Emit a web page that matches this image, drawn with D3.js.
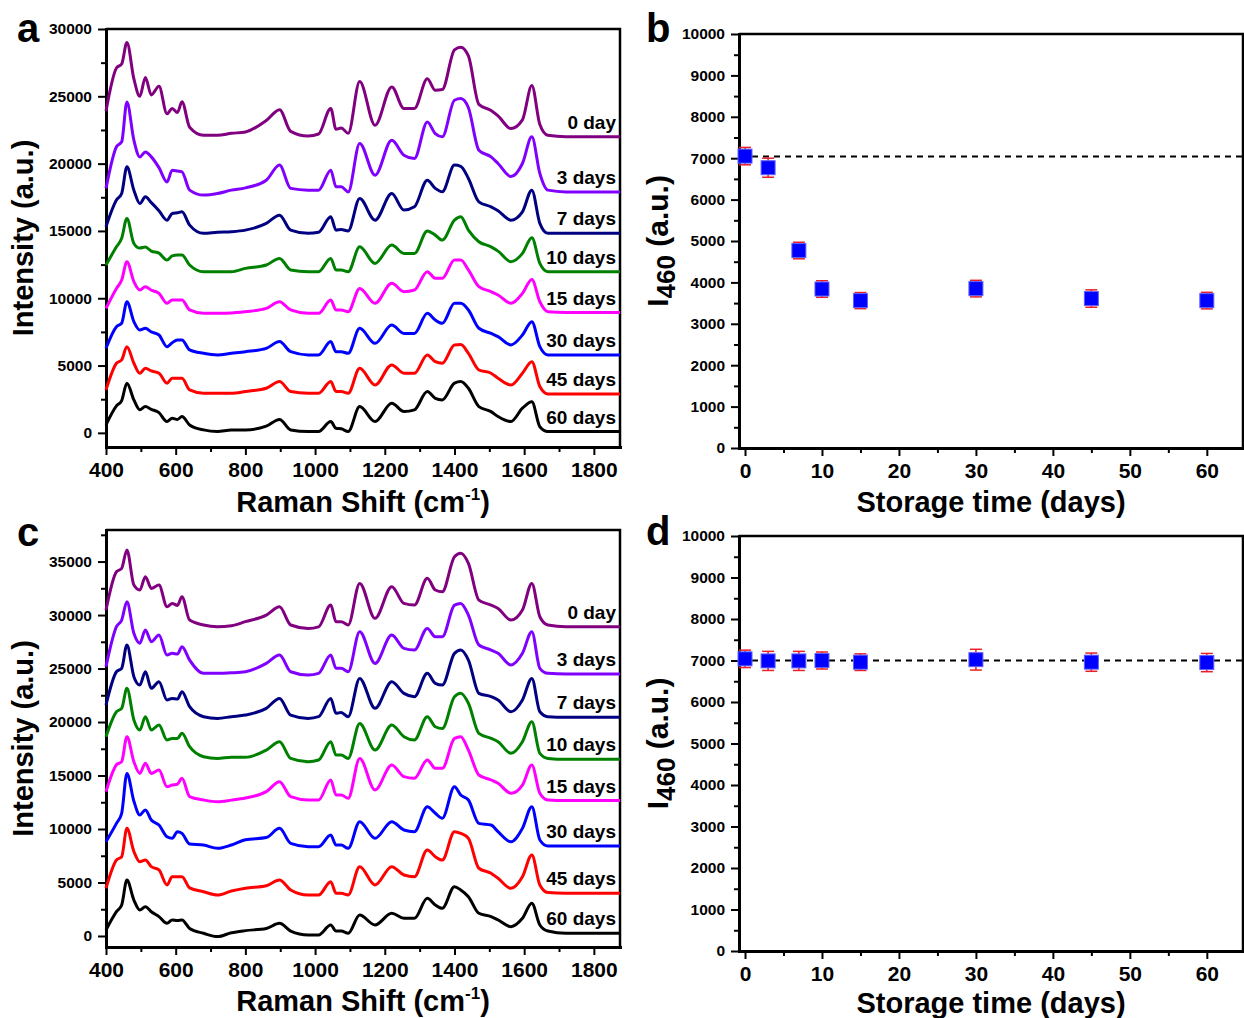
<!DOCTYPE html>
<html>
<head>
<meta charset="utf-8">
<script src="https://cdn.jsdelivr.net/npm/d3@7"></script>
<style>
  body { margin: 0; background: #fff; }
  text { font-family: "Liberation Sans", Arial, sans-serif; font-weight: bold; fill: #000; }
</style>
</head>
<body>
<svg id="fig" width="1244" height="1018"></svg>
<script>
// Raman shift grid (cm-1) shared by all spectra
var shift = [400, 430, 445, 460, 480, 497, 513, 530, 552, 575, 590, 605, 618, 640, 680, 720, 760, 800, 860, 898,
             930, 980, 1010, 1045, 1060, 1075, 1095, 1128, 1172, 1220, 1255, 1285, 1322, 1345, 1365, 1400, 1418, 1440, 1470, 1505,
             1525, 1562, 1595, 1622, 1645, 1668, 1720, 1800, 1875];

var dayLabels = ["0 day", "3 days", "7 days", "10 days", "15 days", "30 days", "45 days", "60 days"];

// panel a spectra
var aDay0 = [23900, 27100, 27400, 29000, 26300, 25000, 26400, 25100, 25750, 23700,
  24100, 23800, 24600, 22700, 22100, 22100, 22250, 22350, 23200, 24000,
  22400, 22050, 22200, 24100, 22550, 22650, 22250, 26100, 22850, 25700,
  24100, 24100, 26300, 25450, 25500, 28450, 28650, 28000, 24400, 23950,
  23550, 22600, 23250, 25800, 22900, 22100, 22000, 22000, 22000];
var aDay3 = [18160, 21250, 21620, 24580, 21740, 20500, 20870, 20500, 19700, 18640,
  19510, 19450, 19390, 18030, 17660, 17780, 18030, 18200, 18770, 19890,
  18160, 18030, 18030, 19510, 18280, 18280, 17900, 21500, 19140, 21740,
  20630, 20380, 23100, 22230, 21990, 24710, 24830, 24150, 21000, 20500,
  20010, 19040, 20010, 21990, 19270, 18030, 17900, 17900, 17900];
var aDay7 = [15310, 17290, 17780, 19760, 18030, 17040, 17530, 17100, 16500, 15800,
  16300, 16350, 16420, 15430, 14820, 14900, 14940, 15060, 15560, 16170,
  15060, 14820, 14900, 16050, 15060, 15100, 15000, 17410, 15800, 17780,
  16550, 16790, 18770, 18160, 17910, 19890, 19800, 18900, 17160, 16790,
  16500, 15800, 16420, 18030, 15560, 14820, 14820, 14820, 14820];
var aDay10 = [12470, 13820, 14450, 15930, 14070, 13730, 13800, 13500, 13350, 12840,
  13150, 13210, 13210, 12470, 11970, 11970, 11970, 12220, 12470, 12960,
  12100, 11970, 11970, 12960, 12100, 12100, 11970, 13820, 12590, 13950,
  13330, 13330, 15000, 14690, 14320, 15800, 16050, 15060, 14200, 13820,
  13500, 12710, 13330, 14500, 12590, 11970, 11970, 11970, 11970];
var aDay15 = [9250, 10730, 11350, 12710, 11230, 10610, 10860, 10600, 10360, 9620,
  9870, 9870, 9870, 9130, 8880, 8880, 8900, 9000, 9250, 9740,
  9130, 8880, 8880, 9870, 9130, 9130, 9000, 10730, 9620, 11110,
  10490, 10610, 11970, 11480, 11480, 12840, 12840, 12100, 10860, 10490,
  10240, 9620, 10360, 11400, 9740, 9000, 8940, 8940, 8940];
var aDay30 = [6280, 7890, 8140, 9740, 8260, 7640, 7770, 7500, 7270, 6400,
  6700, 6900, 6900, 6160, 5910, 5790, 5910, 6030, 6280, 6780,
  6030, 5790, 5790, 6780, 6030, 6030, 5910, 7770, 6650, 8010,
  7390, 7390, 8880, 8380, 8140, 9620, 9620, 9130, 7770, 7390,
  7150, 6530, 7270, 8260, 6400, 5790, 5790, 5790, 5790];
var aDay45 = [3190, 5170, 5420, 6400, 5170, 4430, 4800, 4600, 4430, 3690,
  4060, 4060, 4060, 3190, 2940, 2940, 2940, 3070, 3310, 3810,
  3070, 2940, 2940, 3810, 3070, 3070, 2940, 4800, 3560, 5050,
  4430, 4430, 5790, 5290, 5170, 6530, 6560, 5910, 4670, 4430,
  4060, 3560, 4430, 5290, 3440, 2890, 2890, 2890, 2890];
var aDay60 = [590, 2000, 2400, 3690, 2450, 1710, 1950, 1750, 1500, 840,
  1090, 1000, 1210, 590, 220, 100, 220, 220, 500, 1000,
  220, 100, 100, 840, 340, 300, 100, 1950, 840, 2200,
  1580, 1710, 3070, 2570, 2450, 3690, 3810, 3310, 1950, 1580,
  1210, 840, 1830, 2320, 460, 100, 100, 100, 100];

// panel c spectra
var cDay0 = [30470, 34050, 34360, 36080, 32800, 32340, 33580, 32490, 32800, 30780,
  31090, 30900, 31710, 29530, 29070, 28910, 29000, 29380, 30000, 30780,
  29070, 28750, 28900, 30930, 29380, 29380, 29070, 32960, 29690, 32650,
  31090, 30930, 33430, 32340, 32180, 35450, 35770, 34830, 31400, 30930,
  30620, 29530, 30470, 32960, 29840, 29070, 28910, 28910, 28910];
var cDay3 = [25170, 28910, 29530, 31240, 28290, 27360, 28600, 27510, 28130, 26260,
  26420, 26350, 27040, 25790, 24550, 24550, 24600, 24700, 25480, 26260,
  24700, 24390, 24550, 26260, 25020, 25020, 24700, 28440, 25480, 28130,
  26880, 26730, 28750, 27970, 27970, 30930, 31090, 30000, 27200, 26730,
  26420, 25330, 26420, 28440, 25020, 24550, 24500, 24500, 24500];
var cDay7 = [21590, 24700, 25020, 27200, 24240, 23460, 24700, 23150, 23770, 22060,
  22210, 22150, 22830, 21430, 20500, 20340, 20500, 20650, 21280, 22210,
  20650, 20340, 20500, 22210, 20810, 20900, 20500, 24080, 21280, 23770,
  22680, 22370, 24550, 23620, 23460, 26420, 26730, 25790, 22680, 22370,
  22060, 20960, 22060, 24080, 20960, 20500, 20440, 20440, 20440];
var cDay10 = [18630, 20960, 21280, 23150, 20190, 19250, 20500, 19250, 19720, 18320,
  18470, 18470, 18940, 17690, 16760, 16600, 16700, 16700, 17380, 18160,
  16600, 16290, 16450, 18160, 16920, 16920, 16600, 19870, 17380, 19720,
  18630, 18320, 20500, 19560, 19400, 22370, 22680, 21750, 18940, 18470,
  18160, 17070, 18160, 20030, 17070, 16600, 16510, 16510, 16510];
var cDay15 = [13490, 16000, 16300, 18630, 16290, 15200, 16140, 15200, 15510, 13950,
  14110, 14200, 14740, 13020, 12710, 12550, 12700, 12900, 13490, 14420,
  13020, 12710, 12710, 14580, 13180, 13180, 12870, 16600, 13650, 15980,
  14890, 14740, 16450, 15670, 15670, 18470, 18630, 17380, 15050, 14580,
  14270, 13340, 14110, 15980, 13340, 12710, 12660, 12660, 12660];
var cDay30 = [8810, 10530, 11470, 15200, 12600, 11310, 11780, 10840, 10370, 9280,
  9130, 9750, 9590, 8600, 8500, 8190, 8500, 9000, 9200, 10060,
  8660, 8350, 8350, 9440, 8500, 8500, 8190, 10680, 9130, 10680,
  9910, 9750, 12080, 11470, 11000, 13950, 13180, 12710, 10530, 10370,
  9750, 8810, 10060, 12080, 8970, 8400, 8400, 8400, 8400];
var cDay45 = [4460, 7100, 7410, 10060, 7900, 6940, 7100, 6480, 6170, 4770,
  5540, 5540, 5540, 4500, 4140, 3830, 4200, 4460, 4700, 5230,
  4300, 3830, 3830, 5070, 4000, 3990, 3830, 6480, 4770, 6480,
  5700, 5540, 8040, 7410, 7100, 9750, 9590, 9130, 6330, 5860,
  5390, 4460, 5540, 7570, 4770, 4060, 3990, 3990, 3990];
var cDay60 = [560, 2270, 2900, 5230, 3360, 2430, 2740, 2270, 1810, 1180,
  1500, 1450, 1500, 700, 250, -60, 300, 500, 700, 1180,
  460, 90, 100, 1030, 460, 460, 250, 1960, 1030, 2120,
  1650, 1650, 3520, 2900, 2590, 4610, 4300, 3670, 2120, 1810,
  1500, 870, 1650, 3050, 1030, 460, 250, 250, 250];

// panels b and d: I460 vs storage time
var storageDays = [0, 3, 7, 10, 15, 30, 45, 60];
var bI460 = [7050, 6770, 4770, 3840, 3560, 3850, 3610, 3560];
var bErr  = [210, 230, 200, 200, 195, 200, 210, 200];
var bRef = 7040;
var dI460 = [7040, 6990, 6990, 7000, 6960, 7020, 6960, 6950];
var dErr  = [210, 230, 230, 205, 200, 250, 220, 220];
var dRef = 7000;

var spectraColors = ["#800080", "#8000ff", "#000080", "#008000", "#ff00ff", "#0000ff", "#ff0000", "#000000"];

var svg = d3.select("#fig");
var fmt = d3.format("d");

// axis helper: ticks outward, bold labels, frame on top/right
function drawFrame(x, y, xMajor, xMinor, yMajor, yMinor) {
  var x0 = x.range()[0], x1 = x.range()[1], y0 = y.range()[0], y1 = y.range()[1];

  svg.append("path")
    .attr("d", "M" + x0 + "," + y1 + "H" + x1 + "V" + y0)
    .attr("fill", "none").attr("stroke", "#000").attr("stroke-width", 2.5);

  var gx = svg.append("g").attr("transform", "translate(0," + y0 + ")")
    .call(d3.axisBottom(x).tickValues(xMajor).tickFormat(fmt).tickSize(8).tickPadding(7).tickSizeOuter(0));
  gx.attr("font-size", 21).attr("font-family", null);
  svg.append("g").attr("transform", "translate(0," + y0 + ")")
    .call(d3.axisBottom(x).tickValues(xMinor).tickSize(5).tickFormat("").tickSizeOuter(0))
    .select(".domain").remove();

  var gy = svg.append("g").attr("transform", "translate(" + x0 + ",0)")
    .call(d3.axisLeft(y).tickValues(yMajor).tickFormat(fmt).tickSize(8).tickPadding(6).tickSizeOuter(0));
  gy.attr("font-size", 15.5).attr("font-family", null);
  svg.append("g").attr("transform", "translate(" + x0 + ",0)")
    .call(d3.axisLeft(y).tickValues(yMinor).tickSize(5).tickFormat("").tickSizeOuter(0))
    .select(".domain").remove();

  svg.selectAll(".domain").attr("stroke-width", 3).attr("stroke-linecap", "square");
  svg.selectAll(".tick line").attr("stroke-width", 2);
}

function spectraPanel(series, yDomain, yRange, yMax, letter, letterY, titleY) {
  var x = d3.scaleLinear().domain([400, 1875]).range([106, 620]);
  var y = d3.scaleLinear().domain(yDomain).range(yRange);

  var yMajor = d3.range(0, yMax + 1, 5000);
  var yMinor = d3.range(2500, yDomain[1], 5000);
  drawFrame(x, y, d3.range(400, 1801, 200), d3.range(500, 1801, 200), yMajor, yMinor);

  var line = d3.line()
    .x(function(d, i) { return x(shift[i]); })
    .y(function(d) { return y(d); })
    .curve(d3.curveMonotoneX);

  svg.append("g").selectAll("path")
    .data(series)
    .enter()
    .append("path")
    .attr("d", line)
    .attr("fill", "none")
    .attr("stroke", function(d, i) { return spectraColors[i]; })
    .attr("stroke-width", 3)
    .attr("stroke-linejoin", "round");

  svg.append("g").selectAll("text")
    .data(series)
    .enter()
    .append("text")
    .attr("x", 616)
    .attr("y", function(d) { return y(d[d.length - 1]) - 8; })
    .attr("text-anchor", "end")
    .attr("font-size", 19)
    .text(function(d, i) { return dayLabels[i]; });

  svg.append("text").attr("x", 17).attr("y", letterY).attr("font-size", 40).text(letter);

  svg.append("text")
    .attr("transform", "translate(33," + (yRange[0] + yRange[1]) / 2 + ") rotate(-90)")
    .attr("text-anchor", "middle").attr("font-size", 29)
    .text("Intensity (a.u.)");

  var t = svg.append("text").attr("x", 363).attr("y", titleY)
    .attr("text-anchor", "middle").attr("font-size", 29);
  t.append("tspan").text("Raman Shift (cm");
  t.append("tspan").attr("font-size", 17).attr("dy", -12).text("-1");
  t.append("tspan").attr("dy", 12).text(")");
}

function scatterPanel(vals, errs, ref, yRange, letter, letterY, titleY) {
  var x = d3.scaleLinear().domain([-0.78, 64.7]).range([739, 1243]);
  var y = d3.scaleLinear().domain([0, 10000]).range(yRange);

  drawFrame(x, y, d3.range(0, 61, 10), d3.range(5, 60, 10),
            d3.range(0, 10001, 1000), d3.range(500, 10000, 1000));

  svg.append("line")
    .attr("x1", x.range()[0] + 2).attr("x2", x.range()[1])
    .attr("y1", y(ref)).attr("y2", y(ref))
    .attr("stroke", "#000").attr("stroke-width", 2).attr("stroke-dasharray", "6,5");

  var pts = storageDays.map(function(d, i) { return {day: d, v: vals[i], e: errs[i]}; });

  var eb = svg.append("g").selectAll("g")
    .data(pts).enter().append("g")
    .attr("stroke", "#e8202a").attr("stroke-width", 1.5);
  eb.append("line")
    .attr("x1", function(d) { return x(d.day); }).attr("x2", function(d) { return x(d.day); })
    .attr("y1", function(d) { return y(d.v - d.e); }).attr("y2", function(d) { return y(d.v + d.e); });
  eb.append("line")
    .attr("x1", function(d) { return x(d.day) - 6; }).attr("x2", function(d) { return x(d.day) + 6; })
    .attr("y1", function(d) { return y(d.v + d.e); }).attr("y2", function(d) { return y(d.v + d.e); });
  eb.append("line")
    .attr("x1", function(d) { return x(d.day) - 6; }).attr("x2", function(d) { return x(d.day) + 6; })
    .attr("y1", function(d) { return y(d.v - d.e); }).attr("y2", function(d) { return y(d.v - d.e); });

  svg.append("g").selectAll("rect")
    .data(pts).enter().append("rect")
    .attr("x", function(d) { return x(d.day) - 7; })
    .attr("y", function(d) { return y(d.v) - 7; })
    .attr("width", 14).attr("height", 14)
    .attr("fill", "#0000ff").attr("stroke", "#6060ff").attr("stroke-width", 1);

  svg.append("text").attr("x", 646).attr("y", letterY).attr("font-size", 40).text(letter);

  var yt = svg.append("text")
    .attr("transform", "translate(668," + (yRange[0] + yRange[1]) / 2 + ") rotate(-90)")
    .attr("text-anchor", "middle").attr("font-size", 30);
  yt.append("tspan").text("I");
  yt.append("tspan").attr("font-size", 26).attr("dy", 7).text("460");
  yt.append("tspan").attr("dy", -7).text(" (a.u.)");

  svg.append("text").attr("x", 991).attr("y", titleY)
    .attr("text-anchor", "middle").attr("font-size", 29)
    .text("Storage time (days)");
}

spectraPanel([aDay0, aDay3, aDay7, aDay10, aDay15, aDay30, aDay45, aDay60],
             [-1050, 30000], [447, 29], 30000, "a", 42, 512);
spectraPanel([cDay0, cDay3, cDay7, cDay10, cDay15, cDay30, cDay45, cDay60],
             [-1030, 37950], [947, 530], 35000, "c", 546, 1011);
scatterPanel(bI460, bErr, bRef, [448, 34], "b", 42, 512);
scatterPanel(dI460, dErr, dRef, [951, 536], "d", 545, 1013);
</script>
</body>
</html>
